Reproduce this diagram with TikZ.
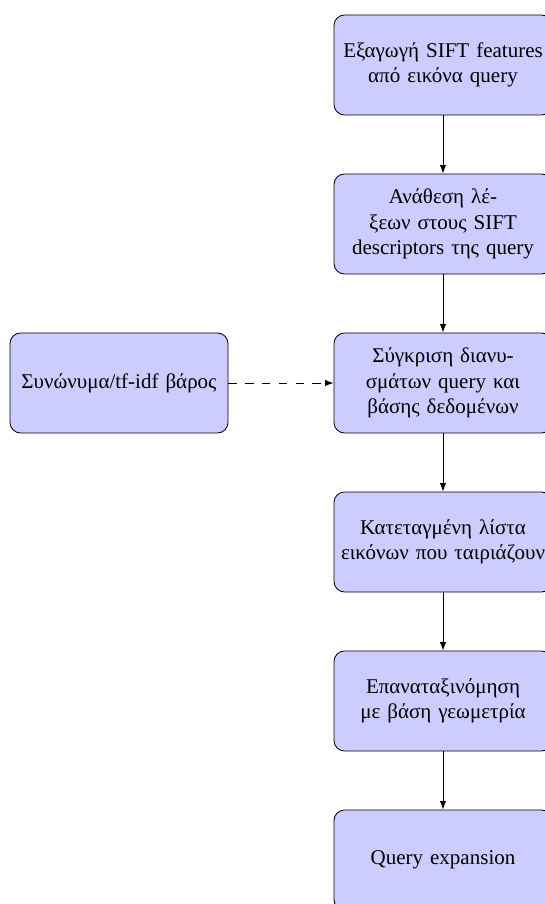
\documentclass[tikz,border=0pt]{standalone}
\usepackage{fontspec}
\setmainfont{Liberation Serif}
\usetikzlibrary{arrows.meta}
\definecolor{boxfill}{RGB}{204,204,255}
\begin{document}
\begin{tikzpicture}[x=0.476pt,y=-0.476pt,
  stepbox/.style={draw=black, fill=boxfill, rounded corners=5pt, align=center,
    text width=3.5cm, minimum width=218*0.476pt, minimum height=100*0.476pt, inner sep=2pt,
    font=\fontsize{10}{12}\selectfont},
  flow/.style={-{Latex[length=4pt,width=3pt]}, line width=0.45pt},
  side/.style={flow, dash pattern=on 4pt off 4pt}]
\useasboundingbox (0,0) rectangle (544,904);
\node[stepbox] (s1) at (443,65) {Εξαγωγή SIFT features\\από εικόνα query};
\node[stepbox] (s2) at (443,224) {Ανάθεση λέ-\\ξεων στους SIFT\\descriptors της query};
\node[stepbox] (s3) at (443,383) {Σύγκριση διανυ-\\σμάτων query και\\βάσης δεδομένων};
\node[stepbox] (s4) at (443,542) {Κατεταγμένη λίστα\\εικόνων που ταιριάζουν};
\node[stepbox] (s5) at (443,701) {Επαναταξινόμηση\\με βάση γεωμετρία};
\node[stepbox] (s6) at (443,860) {Query expansion};
\node[stepbox] (w) at (119,383) {Συνώνυμα/tf-idf βάρος};
\draw[flow] (s1) -- (s2);
\draw[flow] (s2) -- (s3);
\draw[flow] (s3) -- (s4);
\draw[flow] (s4) -- (s5);
\draw[flow] (s5) -- (s6);
\draw[side] (w) -- (s3);
\end{tikzpicture}
\end{document}
